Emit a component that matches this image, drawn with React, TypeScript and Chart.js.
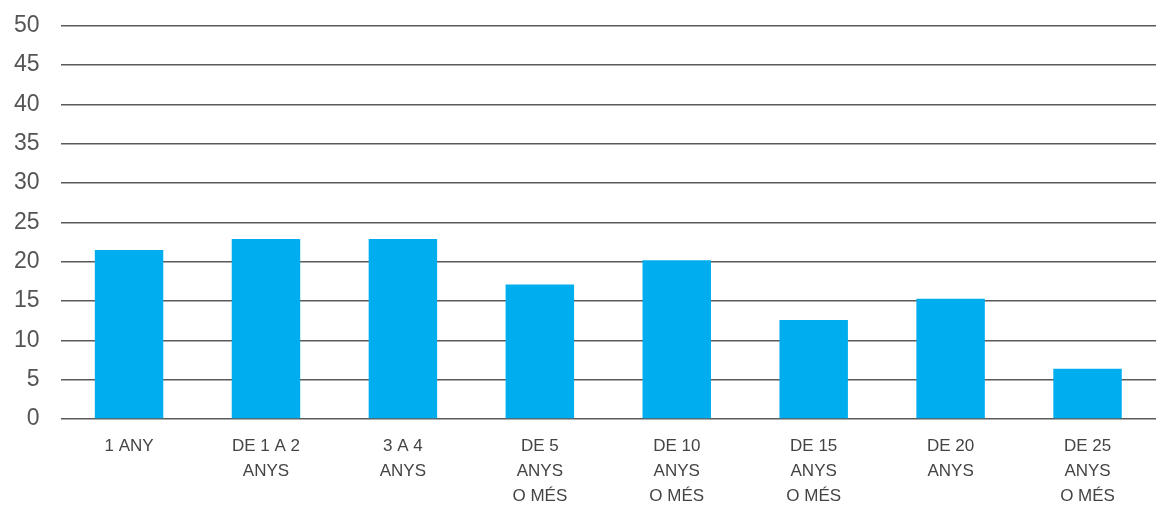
import React, { useEffect, useRef } from "react";
import { Chart, registerables } from "chart.js";

Chart.register(...registerables);

const categories: string[][] = [
  ["1 ANY"],
  ["DE 1 A 2", "ANYS"],
  ["3 A 4", "ANYS"],
  ["DE 5", "ANYS", "O MÉS"],
  ["DE 10", "ANYS", "O MÉS"],
  ["DE 15", "ANYS", "O MÉS"],
  ["DE 20", "ANYS"],
  ["DE 25", "ANYS", "O MÉS"],
];
const values: number[] = [21.5, 22.9, 22.9, 17.1, 20.2, 12.6, 15.3, 6.4];
const yMin = 0;
const yMax = 50;
const yStep = 5;

export default function App() {
  const ref = useRef<HTMLCanvasElement | null>(null);
  useEffect(() => {
    if (!ref.current) return;
    const chart = new Chart(ref.current, {
      type: "bar",
      data: {
        labels: categories,
        datasets: [
          {
            data: values,
            backgroundColor: "#00AEEF",
            categoryPercentage: 1,
            barPercentage: 0.5,
          },
        ],
      },
      options: {
        animation: false,
        responsive: true,
        maintainAspectRatio: false,
        layout: { padding: { top: 0, right: 5, left: -7, bottom: -10 } },
        plugins: { legend: { display: false }, tooltip: { enabled: false } },
        scales: {
          x: {
            grid: { display: false },
            border: { display: false },
            ticks: {
              color: "#444",
              font: { family: "'Liberation Sans', Arial, sans-serif", size: 17, lineHeight: 1.47 },
              maxRotation: 0,
              autoSkip: false,
              padding: 7,
            },
          },
          y: {
            min: yMin,
            max: yMax,
            grid: { color: "#5a5a5a", lineWidth: 1.5, drawTicks: false },
            border: { display: false },
            ticks: {
              stepSize: yStep,
              color: "#555",
              font: { family: "'Liberation Sans', Arial, sans-serif", size: 23 },
              padding: 21,
            },
          },
        },
      },
    });
    return () => chart.destroy();
  }, []);
  return (
    <div style={{ position: "fixed", left: 0, top: -9, width: 1161, height: 515, background: "#fff" }}>
      <canvas ref={ref} />
    </div>
  );
}
